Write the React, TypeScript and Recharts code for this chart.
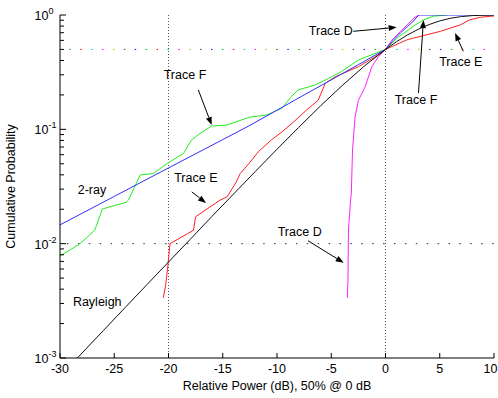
import { LineChart, Line, XAxis, YAxis, ReferenceLine, ReferenceDot } from 'recharts';

const font = "'Liberation Sans', Arial, Helvetica, sans-serif";

// axis ticks
const xTicks = [-30, -25, -20, -15, -10, -5, 0, 5, 10];
const yTicks = [
  0.001, 0.002, 0.003, 0.004, 0.005, 0.006, 0.007, 0.008, 0.009,
  0.01, 0.02, 0.03, 0.04, 0.05, 0.06, 0.07, 0.08, 0.09,
  0.1, 0.2, 0.3, 0.4, 0.5, 0.6, 0.7, 0.8, 0.9, 1,
];
const yDecades = [0.001, 0.01, 0.1, 1];
const yExponents = ['-3', '-2', '-1', '0'];

// [relative power dB, cumulative probability]
const rayleigh: [number, number][] = [
  [-28.4, 0.001], [-26, 0.00174], [-24, 0.00276], [-22, 0.00437], [-20, 0.00691],
  [-18, 0.0109], [-16, 0.0173], [-14, 0.0272], [-12, 0.0428], [-10, 0.067],
  [-8, 0.104], [-6, 0.16], [-4, 0.241], [-2, 0.354], [0, 0.5], [1, 0.583],
  [2, 0.667], [3, 0.749], [4, 0.824], [5, 0.888], [6, 0.937], [7, 0.969],
  [8, 0.988], [9, 0.996], [10, 0.999],
];

const twoRay: [number, number][] = [
  [-30, 0.0146], [-25, 0.0259], [-20, 0.046], [-15, 0.0813], [-12.6, 0.107],
  [-10, 0.147], [-7.5, 0.2], [-5, 0.271], [-2.5, 0.368], [0, 0.5], [0.7, 0.6],
  [1.4, 0.7], [2, 0.79], [2.5, 0.87], [2.9, 0.96], [3.1, 1], [10, 1],
];

const traceF: [number, number][] = [
  [-30, 0.0078], [-28.2, 0.0099], [-26.8, 0.0131], [-26.1, 0.0201], [-23.9, 0.023],
  [-23.7, 0.024], [-22.6, 0.04], [-21.4, 0.041], [-20.1, 0.0504], [-18.6, 0.0617],
  [-17.9, 0.0805], [-17.1, 0.092], [-16, 0.107], [-14.6, 0.109], [-12.5, 0.128],
  [-11, 0.133], [-9.55, 0.153], [-8.68, 0.193], [-8.06, 0.221], [-6.5, 0.244],
  [-5.25, 0.279], [-4.07, 0.319], [-2.5, 0.404], [0, 0.5], [1.08, 0.63],
  [2.6, 0.8], [3.54, 0.91], [4.45, 0.977], [5.7, 1],
];

const traceE: [number, number][] = [
  [-20.48, 0.00336], [-20.26, 0.00434], [-20.07, 0.00628], [-19.86, 0.01], [-17.7, 0.0131],
  [-17.5, 0.0172], [-15.25, 0.024], [-14.6, 0.0257], [-13.8, 0.034], [-13.4, 0.041],
  [-12.6, 0.05], [-11.7, 0.064], [-10.5, 0.081], [-9.55, 0.095], [-8.6, 0.113],
  [-7.25, 0.148], [-6.2, 0.18], [-5.55, 0.253], [-4.6, 0.289], [-2.5, 0.353],
  [-0.95, 0.431], [0, 0.5], [2, 0.608], [5.07, 0.72], [6.9, 0.82], [7.8, 0.91],
  [8.76, 0.955], [9.7, 0.975], [10, 0.98],
];

const traceD: [number, number][] = [
  [-3.52, 0.00336], [-3.46, 0.0048], [-3.42, 0.012], [-3.38, 0.015], [-3.3, 0.0184],
  [-3.22, 0.024], [-3.15, 0.0275], [-3.04, 0.066], [-2.8, 0.129], [-2.49, 0.18],
  [-1.87, 0.236], [-1.26, 0.353], [-0.65, 0.432], [0, 0.5], [0.6, 0.604],
  [1.08, 0.67], [1.38, 0.72], [2, 0.82], [2.6, 0.94], [3.07, 1],
];

// annotation text and arrows, in data units
const labels = [
  { text: 'Trace F', x: -18.48, y: 0.2985 },
  { text: '2-ray', x: -27.05, y: 0.0294 },
  { text: 'Trace E', x: -17.48, y: 0.0373 },
  { text: 'Trace D', x: -7.91, y: 0.01256 },
  { text: 'Rayleigh', x: -26.57, y: 0.0031 },
  { text: 'Trace D', x: -5.04, y: 0.72 },
  { text: 'Trace F', x: 2.81, y: 0.18 },
  { text: 'Trace E', x: 6.94, y: 0.39 },
];

const arrows = [
  { x1: -17.25, y1: 0.221, x2: -16.02, y2: 0.109 },
  { x1: -17.86, y1: 0.0284, x2: -16.54, y2: 0.0227 },
  { x1: -7.14, y1: 0.0106, x2: -3.85, y2: 0.0068 },
  { x1: -2.97, y1: 0.72, x2: 1.03, y2: 0.78 },
  { x1: 3.04, y1: 0.208, x2: 3.5, y2: 0.904 },
  { x1: 7.17, y1: 0.481, x2: 6.41, y2: 0.696 },
];

// colours of the dotted 50% line (overlaid dots)
const halfLineColors = ['#00b000', '#ff0000', '#00bfbf', '#ff00ff', '#bfbf00', '#404040', '#0000ff'];

const series = [
  { name: 'Trace D', data: traceD, color: '#ff22ff' },
  { name: 'Trace E', data: traceE, color: '#ff2020' },
  { name: 'Trace F', data: traceF, color: '#22ee22' },
  { name: '2-ray', data: twoRay, color: '#3030ff' },
  { name: 'Rayleigh', data: rayleigh, color: '#111111' },
];

const toRows = (pts: [number, number][]) => pts.map(([x, p]) => ({ x, p }));

function BottomTick({ x, y, payload }: any) {
  const last = payload.value === xTicks[xTicks.length - 1];
  return (
    <g>
      <line x1={x} x2={x} y1={y} y2={y - 5} stroke="#000" />
      <text
        x={last ? x + 3.5 : x}
        y={y + 15}
        textAnchor={last ? 'end' : 'middle'}
        fontSize={12.5}
        fontFamily={font}
        fill="#000"
      >
        {payload.value}
      </text>
    </g>
  );
}

function TopTick({ x, y }: any) {
  return <line x1={x} x2={x} y1={y} y2={y + 5} stroke="#000" />;
}

function LeftTick({ x, y, payload }: any) {
  const i = yDecades.indexOf(payload.value);
  const len = i >= 0 ? 6 : 4;
  return (
    <g>
      <line x1={x} x2={x + len} y1={y} y2={y} stroke="#000" />
      {i >= 0 && (
        <text x={x - 25.5} y={y + 5} fontSize={12.5} fontFamily={font} fill="#000">
          10
          <tspan dy={-6} fontSize={9}>
            {yExponents[i]}
          </tspan>
        </text>
      )}
    </g>
  );
}

function RightTick({ x, y, payload }: any) {
  const len = yDecades.indexOf(payload.value) >= 0 ? 6 : 4;
  return <line x1={x} x2={x - len} y1={y} y2={y} stroke="#000" />;
}

function Arrow(props: any) {
  const { x1, y1, x2, y2 } = props;
  const a = Math.atan2(y2 - y1, x2 - x1);
  const L = 8;
  const W = 3;
  const bx = x2 - L * Math.cos(a);
  const by = y2 - L * Math.sin(a);
  const px = -Math.sin(a) * W;
  const py = Math.cos(a) * W;
  return (
    <g>
      <line x1={x1} y1={y1} x2={bx} y2={by} stroke="#000" strokeWidth={1} />
      <polygon points={`${x2},${y2} ${bx + px},${by + py} ${bx - px},${by - py}`} fill="#000" />
    </g>
  );
}

const yLabel = (props: any) => {
  const { viewBox } = props;
  const cx = viewBox.x + 15;
  const cy = viewBox.y + viewBox.height / 2;
  return (
    <text x={cx} y={cy} transform={`rotate(-90 ${cx} ${cy})`} textAnchor="middle" fontSize={12.5} fontFamily={font} fill="#000">
      Cumulative Probability
    </text>
  );
};

const xLabel = (props: any) => {
  const { viewBox } = props;
  return (
    <text x={viewBox.x + viewBox.width / 2} y={viewBox.y + 32} textAnchor="middle" fontSize={12.5} fontFamily={font} fill="#000">
      Relative Power (dB), 50% @ 0 dB
    </text>
  );
};

export default function App() {
  return (
    <div style={{ position: 'absolute', left: 0, top: 0, background: '#fff' }}>
      <LineChart width={498} height={398} margin={{ top: 15, right: 4, bottom: 0, left: 0 }}>
        <XAxis
          dataKey="x"
          type="number"
          domain={[-30, 10]}
          ticks={xTicks}
          interval={0}
          allowDataOverflow
          height={40}
          tickSize={0}
          tickMargin={0}
          tickLine={false}
          axisLine={{ stroke: '#000' }}
          tick={<BottomTick />}
          label={xLabel}
        />
        <XAxis
          xAxisId="top"
          orientation="top"
          type="number"
          domain={[-30, 10]}
          ticks={xTicks}
          interval={0}
          allowDataOverflow
          height={0}
          tickSize={0}
          tickMargin={0}
          tickLine={false}
          axisLine={{ stroke: '#000' }}
          tick={<TopTick />}
        />
        <YAxis
          type="number"
          scale="log"
          domain={[0.001, 1]}
          ticks={yTicks}
          interval={0}
          allowDataOverflow
          width={60}
          tickSize={0}
          tickMargin={0}
          tickLine={false}
          axisLine={{ stroke: '#000' }}
          tick={<LeftTick />}
          label={yLabel}
        />
        <YAxis
          yAxisId="right"
          orientation="right"
          type="number"
          scale="log"
          domain={[0.001, 1]}
          ticks={yTicks}
          interval={0}
          allowDataOverflow
          width={0}
          tickSize={0}
          tickMargin={0}
          tickLine={false}
          axisLine={{ stroke: '#000' }}
          tick={<RightTick />}
        />

        <ReferenceLine x={-20} stroke="#555" strokeDasharray="1 2" />
        <ReferenceLine x={0} stroke="#555" strokeDasharray="1 2" />
        <ReferenceLine y={0.01} stroke="#333" strokeDasharray="1.5 9.4" strokeDashoffset={-7} />
        {halfLineColors.map((c, i) => (
          <ReferenceLine
            key={c}
            y={0.5}
            stroke={c}
            strokeDasharray="1.5 74.8"
            strokeDashoffset={-(9.3 + 10.9 * i)}
          />
        ))}

        {series.map(s => (
          <Line
            key={s.name}
            name={s.name}
            data={toRows(s.data)}
            dataKey="p"
            type="linear"
            stroke={s.color}
            strokeWidth={1}
            dot={false}
            activeDot={false}
            isAnimationActive={false}
          />
        ))}

        {arrows.map((a, i) => (
          <ReferenceLine
            key={`arrow-${i}`}
            segment={[{ x: a.x1, y: a.y1 }, { x: a.x2, y: a.y2 }]}
            shape={Arrow}
          />
        ))}
        {labels.map((l, i) => (
          <ReferenceDot
            key={`label-${i}`}
            x={l.x}
            y={l.y}
            r={0}
            shape={(p: any) => (
              <text x={p.cx} y={p.cy} textAnchor="middle" dominantBaseline="central" fontSize={12.5} fontFamily={font} fill="#000">
                {l.text}
              </text>
            )}
          />
        ))}
      </LineChart>
    </div>
  );
}
